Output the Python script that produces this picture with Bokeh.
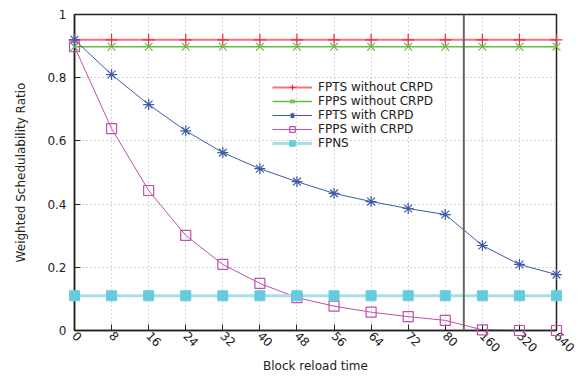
import math
from bokeh.plotting import figure
from bokeh.models import Range1d, FixedTicker, Span, Legend, LegendItem
from bokeh.embed import file_html
from bokeh.resources import INLINE

categories = ["0", "8", "16", "24", "32", "40", "48", "56", "64", "72", "80", "160", "320", "640"]
fpts_without = [0.92] * 14
fpps_without = [0.898] * 14
fpts_with = [0.92, 0.81, 0.715, 0.632, 0.563, 0.512, 0.471, 0.434, 0.408, 0.386, 0.367, 0.269, 0.209, 0.177]
fpps_with = [0.898, 0.639, 0.443, 0.301, 0.209, 0.149, 0.104, 0.077, 0.058, 0.044, 0.032, 0.002, 0.0, 0.0]
fpns = [0.11] * 14
y_ticks = [0, 0.2, 0.4, 0.6, 0.8, 1.0]
y_tick_labels = ["0", "0.2", "0.4", "0.6", "0.8", "1"]
split_between = (10, 11)

xs = list(range(len(categories)))
FONT = "DejaVu Sans"

p = figure(width=583, height=376, output_backend="svg", toolbar_location=None,
           x_range=Range1d(0, len(categories) - 1), y_range=Range1d(0, 1),
           min_border_left=74, min_border_right=27, min_border_top=14, min_border_bottom=40)
p.background_fill_color = "white"
p.border_fill_color = "white"
p.outline_line_color = "#222222"
p.outline_line_width = 1.5

p.xaxis.ticker = FixedTicker(ticks=xs)
p.xaxis.major_label_overrides = {i: c for i, c in enumerate(categories)}
p.xaxis.major_label_orientation = -0.8
p.yaxis.ticker = FixedTicker(ticks=y_ticks)
p.yaxis.major_label_overrides = {t: l for t, l in zip(y_ticks, y_tick_labels)}
for ax in (p.xaxis, p.yaxis):
    ax.major_tick_in = 6
    ax.major_tick_out = 0
    ax.minor_tick_in = 0
    ax.minor_tick_out = 0
    ax.axis_line_color = "#222222"
    ax.axis_line_width = 1.5
    ax.major_tick_line_color = "#222222"
    ax.major_label_text_font = FONT
    ax.major_label_text_font_size = "12px"
    ax.major_label_text_color = "#222222"
    ax.axis_label_text_font = FONT
    ax.axis_label_text_font_size = "12px"
    ax.axis_label_text_font_style = "normal"
    ax.axis_label_text_color = "#222222"
p.xaxis.axis_label = "Block reload time"
p.yaxis.axis_label = "Weighted Schedulability Ratio"
p.xaxis.axis_label_standoff = 0
p.yaxis.axis_label_standoff = 16
p.xaxis.major_label_standoff = 3
p.yaxis.major_label_standoff = 8

for g in (p.xgrid, p.ygrid):
    g.grid_line_color = "#aaaaaa"
    g.grid_line_dash = "1 3"
    g.grid_line_width = 1

p.add_layout(Span(location=(split_between[0] + split_between[1]) / 2, dimension="height",
                  line_color="#666666", line_width=2))

r1l = p.line(xs, fpts_without, line_color="#f03848", line_width=2, line_alpha=0.7)
r1m = p.scatter(xs, fpts_without, marker="cross", size=12, line_color="#e83040", line_width=1.2, level="overlay")
r2l = p.line(xs, fpps_without, line_color="#66bb44", line_width=1.5)
r2m = p.scatter(xs, fpps_without, marker="x", size=11, line_color="#66bb44", line_width=1.2, level="overlay")
r3l = p.line(xs, fpts_with, line_color="#3f5aa8", line_width=1)
r3m = p.scatter(xs, fpts_with, marker="asterisk", size=11, line_color="#3f5aa8", line_width=1.2, level="overlay")
r4l = p.line(xs, fpps_with, line_color="#c050aa", line_width=1)
r4m = p.scatter(xs, fpps_with, marker="square", size=10, line_color="#c050aa", fill_color=None, line_width=1.2, level="overlay")
r5l = p.line(xs, fpns, line_color="#a8dfe8", line_width=3)
r5m = p.scatter(xs, fpns, marker="square", size=10, line_color="#66ccdd", fill_color="#66ccdd", level="overlay")

legend = Legend(items=[
    LegendItem(label="FPTS without CRPD", renderers=[r1l, r1m]),
    LegendItem(label="FPPS without CRPD", renderers=[r2l, r2m]),
    LegendItem(label="FPTS with CRPD", renderers=[r3l, r3m]),
    LegendItem(label="FPPS with CRPD", renderers=[r4l, r4m]),
    LegendItem(label="FPNS", renderers=[r5l, r5m]),
], location=(196, 178))
legend.background_fill_alpha = 0
legend.border_line_alpha = 0
legend.label_text_font = FONT
legend.label_text_font_size = "12px"
legend.label_text_color = "#222222"
legend.glyph_width = 40
legend.glyph_height = 14
legend.label_height = 14
legend.spacing = 0
legend.padding = 2
legend.margin = 0
legend.label_standoff = 6
p.add_layout(legend)

open("out.html", "w").write(file_html(p, INLINE))
